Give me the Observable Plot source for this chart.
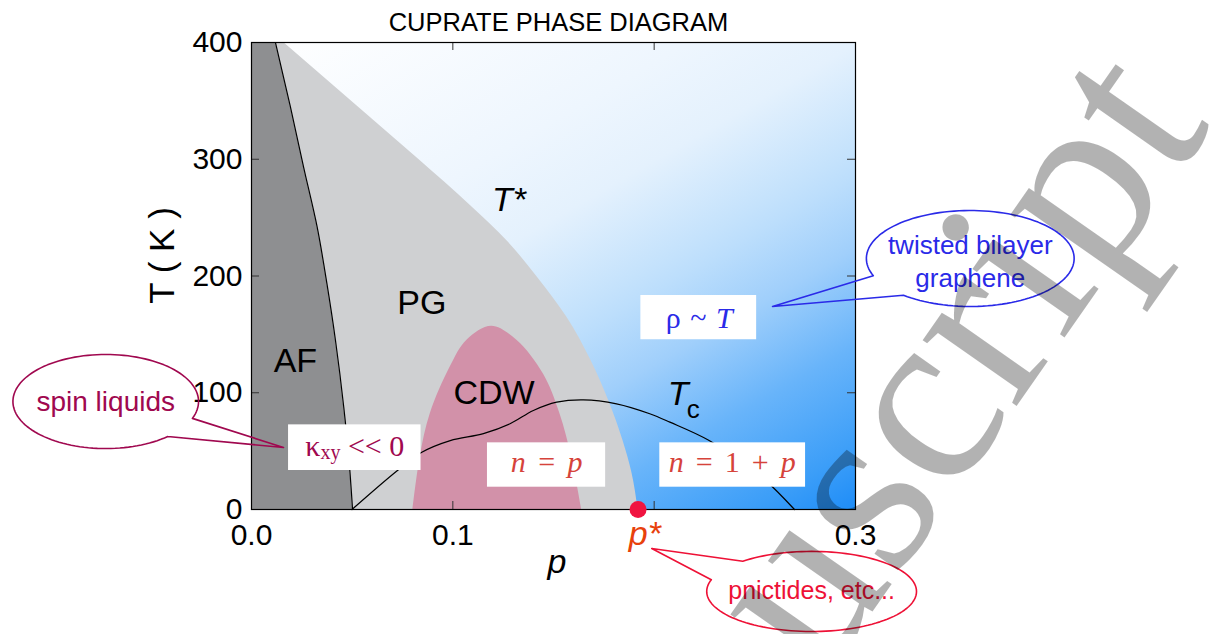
<!DOCTYPE html>
<html><head><meta charset="utf-8">
<script src="https://cdn.jsdelivr.net/npm/d3@7"></script>
<script src="https://cdn.jsdelivr.net/npm/@observablehq/plot@0.6"></script>
<style>body{margin:0;background:#fff;} svg{display:block}</style>
</head><body><div id="chart"></div>
<script>
// ---------- data ----------
const afT   = [400, 345, 293, 242, 193, 145, 88, 45, 0];
const afP   = [0.0119, 0.0193, 0.0259, 0.0326, 0.0375, 0.0417, 0.0458, 0.0483, 0.0502];
const tstarT = [400, 350, 300, 260, 230, 200, 165, 128, 93, 59, 31, 0];
const tstarP = [0.016, 0.0496, 0.083, 0.109, 0.127, 0.1415, 0.1565, 0.1685, 0.1775, 0.1845, 0.189, 0.192];
const cdwP = [0.0802, 0.0838, 0.0888, 0.0987, 0.107, 0.1193, 0.1318, 0.145, 0.1532, 0.159, 0.164];
const cdwT = [0, 45, 82, 122, 145, 157, 145, 116, 82, 45, 0];
const tcP = [0.0499, 0.0722, 0.0846, 0.0987, 0.1152, 0.1284, 0.14, 0.1516, 0.1648, 0.1813, 0.1978, 0.2078, 0.2273, 0.2516, 0.2697];
const tcT = [0, 33, 49, 59, 65, 73.4, 84.8, 91.9, 93.9, 90.5, 82, 74.8, 59.1, 30.6, 0];
const pStar = [0.192];
const yTickLabels = [0, 100, 200, 300, 400];
const xTickLabels = [0, 0.1, 0.3];
const xTickMarks = [0.1, 0.2];
const yTickMarks = [100, 200, 300];
const titleText = "CUPRATE PHASE DIAGRAM";

const af = afT.map((T, i) => ({T, p: afP[i]}));
const tstar = tstarT.map((T, i) => ({T, p: tstarP[i]}));
const cdw = cdwP.map((p, i) => ({p, T: cdwT[i]}));
const tc = tcP.map((p, i) => ({p, T: tcT[i]}));

// ---------- annotation placement (data coordinates) ----------
const boxes = [
  {x1: 0.0184, x2: 0.0842, y1: 33.4, y2: 72.5},
  {x1: 0.1172, x2: 0.1759, y1: 19.1, y2: 57.1},
  {x1: 0.2028, x2: 0.2752, y1: 19.1, y2: 57.1},
  {x1: 0.1934, x2: 0.2509, y1: 145.4, y2: 183.3}
];
const regionLabels = [
  {s: "AF", p: 0.0218, T: 117.6},
  {s: "PG", p: 0.0846, T: 167.6},
  {s: "CDW", p: 0.1205, T: 90.5}
];
const boxTexts = [
  {s: "κxy << 0", p: 0.0513, T: 45.4, c: "#a0084f"},
  {s: "n = p", p: 0.1466, T: 31.7, c: "#d6433b"},
  {s: "n = 1 + p", p: 0.2388, T: 31.7, c: "#d6433b"},
  {s: "ρ ~ T", p: 0.2224, T: 155.6, c: "#2a2ae8"}
];
function bubble(c, rx, ry, gapA, gapB, tip) {
  const pts = [], n = 120, end = gapA + 360;
  for (let i = 0; i <= n; i++) {
    const a = (gapB + (end - gapB) * i / n) * Math.PI / 180;
    pts.push({p: c[0] + rx * Math.cos(a), T: c[1] - ry * Math.sin(a)});
  }
  pts.push({p: tip[0], T: tip[1]});
  pts.push(pts[0]);
  return pts;
}
const bubbles = [
  {pts: bubble([-0.0724, 92.5], 0.0461, 40.3, 21, 48, [0.0159, 53.1]), c: "#a0084f",
   s: "spin liquids", p: -0.0724, T: 84, fs: 28},
  {pts: bubble([0.357, 215], 0.0516, 41.1, 130, 159, [0.2588, 173.9]), c: "#2a2ae8",
   s: "twisted bilayer\ngraphene", p: 0.357, T: 191, fs: 26},
  {pts: bubble([0.2782, -70.2], 0.0521, 34.3, 197, 229, [0.1988, -33.4]), c: "#ee1136",
   s: "pnictides, etc...", p: 0.2782, T: -77, fs: 25}
];

const sans = "'Liberation Sans', Arial, Helvetica, sans-serif";
const serif = "'Liberation Serif', 'Times New Roman', serif";
const frameW = 1213 - 251 - 358, frameH = 634 - 42 - 125;

const plot = Plot.plot({
  width: 1213, height: 634,
  marginLeft: 251, marginRight: 358, marginTop: 42, marginBottom: 125,
  x: {domain: [0, 0.3], axis: null},
  y: {domain: [0, 400], axis: null},
  style: {fontFamily: sans, background: "white", color: "black", overflow: "visible"},
  marks: [
    Plot.frame({fill: "url(#blueGrad)"}),
    Plot.areaX(tstar, {x: "p", y: "T", fill: "#cfd0d2", curve: "monotone-y"}),
    Plot.areaY(cdw, {x: "p", y: "T", fill: "#d291a9", curve: "catmull-rom"}),
    Plot.areaX(af, {x: "p", y: "T", fill: "#8e8f91", curve: "monotone-y"}),
    Plot.line(af, {x: "p", y: "T", stroke: "black", strokeWidth: 1.2, curve: "monotone-y"}),
    Plot.line(tc, {x: "p", y: "T", stroke: "black", strokeWidth: 1.2, curve: "catmull-rom"}),
    Plot.tickY(yTickMarks, {y: d => d, stroke: "#333", insetRight: frameW - 8}),
    Plot.tickY(yTickMarks, {y: d => d, stroke: "#333", insetLeft: frameW - 8}),
    Plot.tickX(xTickMarks, {x: d => d, stroke: "#333", insetTop: frameH - 8}),
    Plot.tickX(xTickMarks, {x: d => d, stroke: "#333", insetBottom: frameH - 8}),
    Plot.frame({stroke: "black", strokeWidth: 1.2}),
    Plot.axisY({ticks: yTickLabels, tickSize: 0, tickPadding: 9, fontSize: 30, label: null}),
    Plot.axisX({ticks: xTickLabels, tickSize: 0, tickPadding: 14, fontSize: 30, label: null, tickFormat: d3.format(".1f")}),
    Plot.text([titleText], {frameAnchor: "top", dx: 5, dy: -11.3, lineAnchor: "bottom", fontSize: 25.5, fill: "black"}),
    Plot.text(["T ( K )"], {x: () => -0.0385, y: () => 217.6, rotate: -90, lineAnchor: "bottom", fontSize: 35, fill: "black"}),
    Plot.text(["p"], {x: () => 0.1517, y: () => -54.8, lineAnchor: "bottom", fontSize: 34, fontStyle: "italic", fill: "black"}),
    Plot.text(regionLabels, {x: "p", y: "T", text: "s", lineAnchor: "bottom", fontSize: 34, fill: "black"}),
    Plot.text(["T*"], {x: () => 0.1195, y: () => 256.1, textAnchor: "start", lineAnchor: "bottom", fontSize: 34, fontStyle: "italic", fill: "black"}),
    Plot.text(["T"], {x: () => 0.2068, y: () => 89.1, textAnchor: "start", lineAnchor: "bottom", fontSize: 34, fontStyle: "italic", fill: "black"}),
    Plot.text(["c"], {x: () => 0.2162, y: () => 78.4, textAnchor: "start", lineAnchor: "bottom", fontSize: 26, fill: "black"}),
    Plot.rect(boxes, {x1: "x1", x2: "x2", y1: "y1", y2: "y2", fill: "white"}),
    Plot.text(boxTexts, {x: "p", y: "T", text: "s", fill: "c", lineAnchor: "bottom", fontSize: 30, fontFamily: serif}),
    ...bubbles.map(b => Plot.line(b.pts, {x: "p", y: "T", stroke: b.c, strokeWidth: 1.6, curve: "linear"})),
    Plot.text(bubbles, {x: "p", y: "T", text: "s", fill: "c", fontSize: "fs", lineAnchor: "bottom", lineHeight: 1.25}),
    Plot.dot(pStar, {x: d => d, y: () => 0, r: 8.5, fill: "#f01440", stroke: "none"}),
    Plot.text(["p*"], {x: () => 0.1954, y: () => -30.8, lineAnchor: "bottom", fontSize: 34, fontStyle: "italic", fill: "#e8410c"}),
    Plot.text(["Manuscript"], {x: () => 0.4775, y: () => 328.9, rotate: -55, textAnchor: "end", lineAnchor: "bottom",
      fontSize: 250, fontFamily: serif, fill: "black", fillOpacity: 0.3})
  ]
});

// gradient definition for the blue background
const xs = plot.scale("x"), ys = plot.scale("y");
const x0 = xs.apply(0), y0 = ys.apply(400), x1 = xs.apply(0.3), y1 = ys.apply(0);
const ux = 0.5, uy = 0.866, L = ux * (x1 - x0) + uy * (y1 - y0);
const svg = d3.select(plot);
const g = svg.insert("defs", ":first-child").append("linearGradient")
  .attr("id", "blueGrad").attr("gradientUnits", "userSpaceOnUse")
  .attr("x1", x0).attr("y1", y0).attr("x2", x0 + ux * L).attr("y2", y0 + uy * L);
[[0, "#ffffff"], [0.31, "#eef6fe"], [0.43, "#e4f1fd"], [0.56, "#c4e2fc"], [0.59, "#bcdefc"],
 [0.68, "#a0cffb"], [0.80, "#68b4fa"], [0.925, "#3c9ef8"], [0.985, "#2490f8"], [1, "#1f8df7"]]
  .forEach(([o, c]) => g.append("stop").attr("offset", o).attr("stop-color", c));

// rich text (italic / subscript parts)
function rich(content, build) {
  plot.querySelectorAll("text").forEach(t => {
    if (t.textContent === content) { t.textContent = ""; build(d3.select(t)); }
  });
}
rich("κxy << 0", t => {
  t.append("tspan").text("κ");
  t.append("tspan").attr("font-size", 20).attr("dy", 3).text("xy");
  t.append("tspan").attr("dy", -3).text("\u00A0<<\u00A00");
});
function mathParts(t, parts, gap) {
  parts.forEach(([s, it], i) => {
    const sp = t.append("tspan").text(s);
    if (it) sp.attr("font-style", "italic");
    if (i > 0) sp.attr("dx", gap);
  });
}
rich("n = p", t => mathParts(t, [["n", 1], ["=", 0], ["p", 1]], 12.5));
rich("n = 1 + p", t => mathParts(t, [["n", 1], ["=", 0], ["1", 0], ["+", 0], ["p", 1]], 12));
rich("ρ ~ T", t => mathParts(t, [["ρ", 0], ["~", 0], ["T", 1]], 9.5));

document.getElementById("chart").appendChild(plot);
</script>
</body></html>
